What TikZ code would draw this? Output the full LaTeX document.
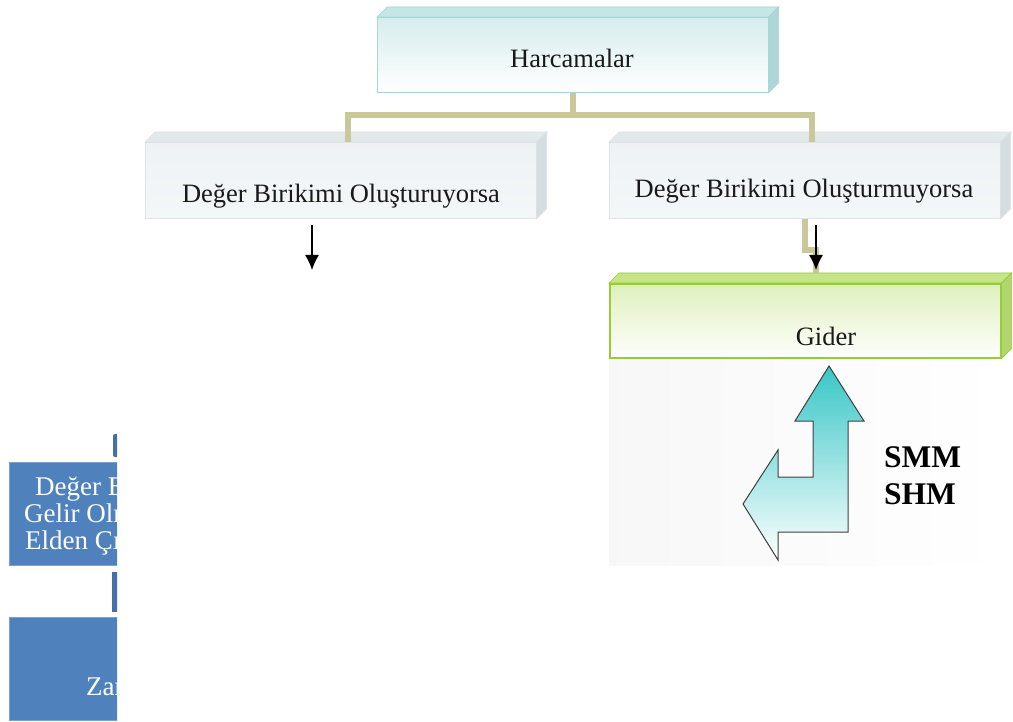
\documentclass[tikz,border=0pt]{standalone}
\usepackage{fontspec}
\setmainfont{Liberation Serif}
\usetikzlibrary{arrows.meta}
\definecolor{khaki}{HTML}{CAC79A}
\definecolor{tealedge}{HTML}{A6D6D6}
\definecolor{tealfill}{HTML}{D6EDED}
\definecolor{tealtopface}{HTML}{C6E6E6}
\definecolor{tealside}{HTML}{AFD6D6}
\definecolor{grayedge}{HTML}{DCE3E6}
\definecolor{grayfill}{HTML}{EDF2F4}
\definecolor{graytopface}{HTML}{E3E9EB}
\definecolor{grayside}{HTML}{D6DDE0}
\definecolor{greenedge}{HTML}{98CC34}
\definecolor{greenfill}{HTML}{DFF0BE}
\definecolor{greentopface}{HTML}{C6E48A}
\definecolor{greenside}{HTML}{B2D66E}
\definecolor{arrowteal}{HTML}{38C6C6}
\definecolor{blockblue}{HTML}{4F81BD}
\definecolor{blockedge}{HTML}{7DA0CC}
\definecolor{tabblue}{HTML}{4670A6}
% top and side faces that give a front rectangle its depth
\newcommand\drawslab[4]{%
  \filldraw[fill=#2,draw=#4,line width=.7pt]
    (#1.north west) -- ++(10,-10) -- ([shift={(10,-10)}]#1.north east) -- (#1.north east) -- cycle;
  \filldraw[fill=#3,draw=#4,line width=.7pt]
    (#1.north east) -- ++(10,-10) -- ([shift={(10,-10)}]#1.south east) -- (#1.south east) -- cycle;
}
\begin{document}
\begin{tikzpicture}[x=1pt,y=-1pt,
  front/.style={rectangle,inner sep=0pt,anchor=north west,line width=.7pt},
  tealbox/.style={front,draw=tealedge,top color=tealfill,bottom color=white},
  graybox/.style={front,draw=grayedge,top color=grayfill,bottom color=grayfill!60!white},
  greenbox/.style={front,draw=greenedge,line width=1.6pt,top color=greenfill,bottom color=white!96!greenfill},
  boxtext/.style={anchor=base,inner sep=0pt,font=\fontsize{26.5}{30}\selectfont,text=black!90},
  link/.style={draw=khaki,line width=5.5pt},
  pointer/.style={-{Latex[length=15pt,width=14pt]},line width=1.2pt},
  whitetext/.style={anchor=base west,inner sep=0pt,text=white,font=\fontsize{27}{27}\selectfont},
  blueblock/.style={fill=blockblue,draw=blockedge,line width=.8pt},
  bluetab/.style={fill=tabblue}
]
\useasboundingbox (0,0) rectangle (1013,722);
\fill[white] (0,0) rectangle (1013,722);

% faint backdrop under the expense box
\shade[left color=black!3,right color=white] (609,357) rectangle (1008,565);

% tree connectors
\coordinate (joinL) at (348,115);
\coordinate (joinR) at (812,115);
\coordinate (bendA) at (805,250);
\coordinate (bendB) at (816,250);

% boxes
\node[tealbox,minimum width=391pt,minimum height=75pt] (harc) at (377,17) {};
\drawslab{harc}{tealtopface}{tealside}{tealedge}
\node[boxtext] (harcT) at (572,68) {Harcamalar};

\node[graybox,minimum width=391pt,minimum height=76pt] (olus) at (145,142) {};
\drawslab{olus}{graytopface}{grayside}{grayedge}
\node[boxtext] (olusT) at (341,203) {Değer Birikimi Oluşturuyorsa};

\node[graybox,minimum width=391pt,minimum height=76pt] (olusm) at (609,142) {};
\drawslab{olusm}{graytopface}{grayside}{grayedge}
\node[boxtext] (olusmT) at (804,198) {Değer Birikimi Oluşturmuyorsa};

% links from the top box
\draw[link] (harc.south) -- (harc.south |- joinL);
\draw[link] (joinL |- olus.north) -- (joinL) -- (joinR) -- (joinR |- olusm.north);

\node[greenbox,minimum width=391pt,minimum height=74pt] (gider) at (609,283) {};
\drawslab{gider}{greentopface}{greenside}{greenedge}
\node[boxtext] (giderT) at (826,345) {Gider};

% link from the right branch to the expense box
\draw[link] (olusm.south -| bendA) -- (bendA) -- (bendB) -- ([yshift=10pt]bendB |- gider.north);

% black pointers
\coordinate (pL) at (312,270);
\coordinate (pR) at (816,270);
\draw[pointer] (olus.south -| pL) ++(0,6) -- (pL);
\draw[pointer] (olusm.south -| pR) ++(0,6) -- (pR);

% bent double arrow
\shade[top color=arrowteal,bottom color=white,draw=black!75,line width=1pt,line join=miter]
  (829,366) -- (864,421) -- (848,421) -- (848,532) -- (778,532) -- (778,560)
  -- (743,504) -- (778,450) -- (778,477) -- (813,477) -- (813,421) -- (795,421) -- cycle;
\node[anchor=base west,inner sep=0pt,font=\fontsize{31.5}{37}\selectfont\bfseries] (smm) at (884,467) {SMM};
\node[anchor=base west,inner sep=0pt,font=\fontsize{31.5}{37}\selectfont\bfseries] (shm) at (884,504) {SHM};

% blocks cut off at the left edge
\begin{scope}
\clip (0,0) rectangle (117,722);
\fill[bluetab,rounded corners=2pt] (113,457) -- (113,434) -- (130,434) -- (130,457) -- cycle;
\node[blueblock,rectangle,inner sep=0pt,anchor=north west,minimum width=160pt,minimum height=103pt] (blk1) at (9,462) {};
\node[whitetext] (b1a) at (35,495) {Değer Birikimi};
\node[whitetext] (b1b) at (24,522) {Gelir Olmayan};
\node[whitetext] (b1c) at (25,549) {Elden Çıkarma};
\fill[bluetab] (112,572) rectangle (130,612);
\node[blueblock,rectangle,inner sep=0pt,anchor=north west,minimum width=160pt,minimum height=103pt] (blk2) at (9,617) {};
\node[whitetext] (b2a) at (86,695) {Zarar};
\end{scope}
\end{tikzpicture}
\end{document}
